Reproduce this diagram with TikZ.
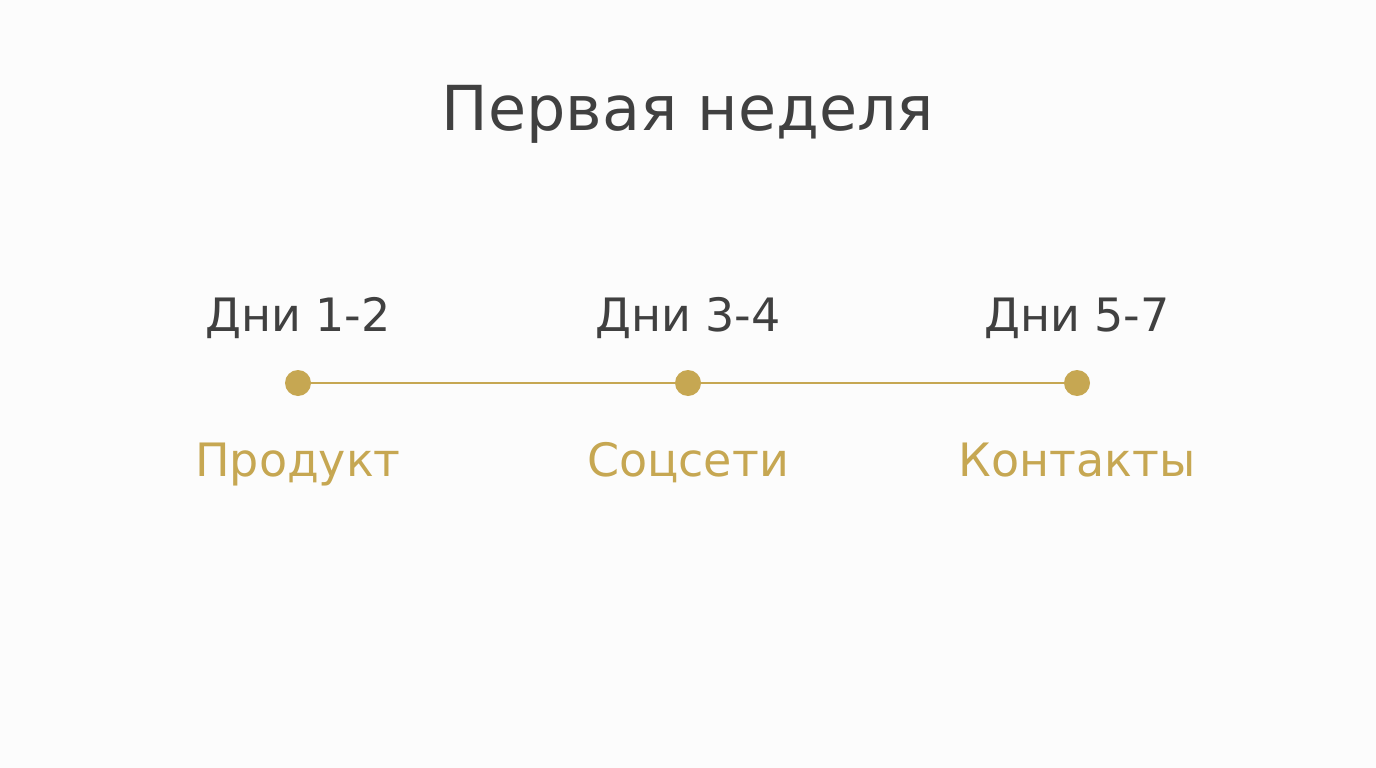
\documentclass[tikz,border=0pt]{standalone}
\usepackage{fontspec}
\setmainfont{DejaVu Sans}
\usetikzlibrary{positioning}
\definecolor{gold}{HTML}{C6A752}
\definecolor{ink}{HTML}{404040}
\definecolor{paper}{HTML}{FCFCFC}
\tikzset{
    dot/.style={circle, fill=gold, inner sep=0pt, minimum size=26pt},
    day/.style={anchor=base, text=ink, font=\fontsize{46}{50}\selectfont},
    topic/.style={anchor=base, text=gold, font=\fontsize{46}{50}\selectfont}
}
\begin{document}
\begin{tikzpicture}[x=1pt, y=-1pt]
        \fill [paper] (0,0) rectangle (1376,768);
        \useasboundingbox (0,0) rectangle (1376,768);
        \node [anchor=base, text=ink, font=\fontsize{62}{66}\selectfont] (title) at (688,130) {Первая неделя};
        \node [dot] (d1) at (298,383) {};
        \node [dot] (d2) at (688,383) {};
        \node [dot] (d3) at (1077,383) {};
        \draw [gold, line width=2.5pt] (d1) -- (d2) -- (d3);
        \node [day] (day1) at (298,331) {Дни 1-2};
        \node [day] (day2) at (688,331) {Дни 3-4};
        \node [day] (day3) at (1077,331) {Дни 5-7};
        \node [topic] (top1) at (298,476) {Продукт};
        \node [topic] (top2) at (688,476) {Соцсети};
        \node [topic] (top3) at (1077,476) {Контакты};
    \end{tikzpicture}
\end{document}
